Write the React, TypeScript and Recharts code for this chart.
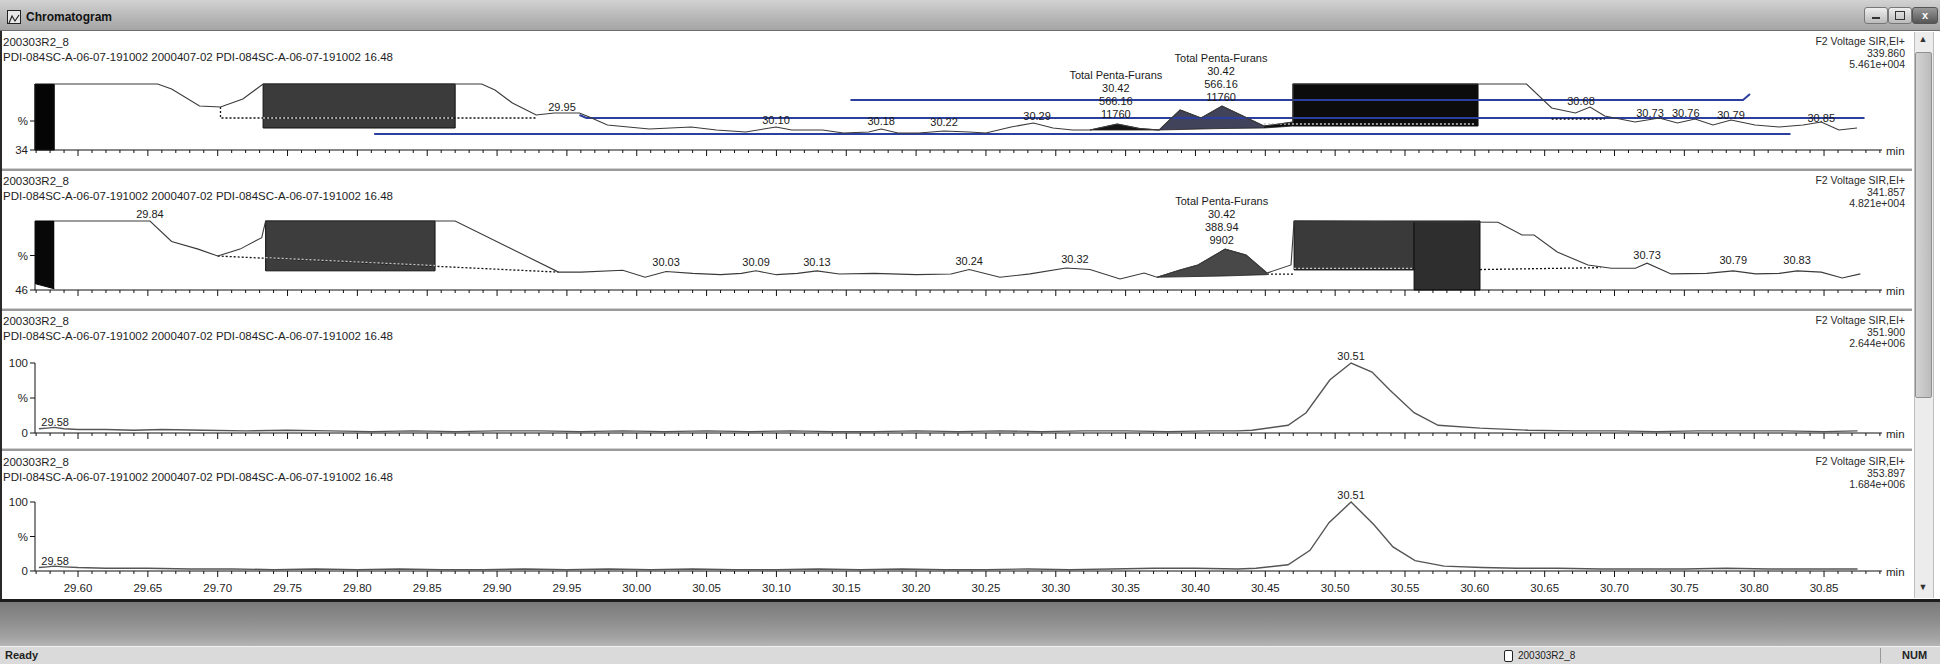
import React from 'react';
import { ComposedChart, Line, Area, XAxis, YAxis, ReferenceArea } from 'recharts';

type P = [number, number];
type R = [number, number, number];
type Rect = [number, number, number, number];
type L = [number, number, string[]];

// ---------------- data ----------------
const X_DOMAIN: [number, number] = [29.5692, 30.8915];
const X_MAJOR_TICKS = [29.6, 29.65, 29.7, 29.75, 29.8, 29.85, 29.9, 29.95, 30.0, 30.05, 30.1, 30.15, 30.2, 30.25, 30.3, 30.35, 30.4, 30.45, 30.5, 30.55, 30.6, 30.65, 30.7, 30.75, 30.8, 30.85];
const X_UNIT = 'min';

const WINDOW_TITLE = 'Chromatogram';
const SAMPLE_NAME = '200303R2_8';
const SAMPLE_DESC = 'PDI-084SC-A-06-07-191002 2000407-02 PDI-084SC-A-06-07-191002 16.48';
const CHANNEL = 'F2 Voltage SIR,EI+';
const MASSES = ['339.860', '341.857', '351.900', '353.897'];
const INTENSITIES = ['5.461e+004', '4.821e+004', '2.644e+006', '1.684e+006'];
const STATUS_LEFT = 'Ready';
const STATUS_FILE = '200303R2_8';
const STATUS_RIGHT = 'NUM';

const Y_DOMAINS: [number, number][] = [[34, 100], [46, 100], [0, 100], [0, 100]];
const Y_TICKS = [[34, 63], [46, 73], [0, 50, 100], [0, 50, 100]];
const Y_TICK_LABELS = [['34', '%'], ['46', '%'], ['0', '%', '100'], ['0', '%', '100']];

// Panel 1 (339.860)
const TRACE_1: P[] = [
  [29.583, 100], [29.657, 100], [29.667, 95], [29.687, 78], [29.702, 77], [29.718, 85], [29.7325, 100],
  [29.889, 100], [29.8985, 94], [29.911, 81], [29.928, 69], [29.941, 71], [29.959, 71], [29.966, 67], [29.979, 59],
  [30.009, 55], [30.039, 57], [30.057, 54], [30.078, 52], [30.0997, 57], [30.111, 54], [30.133, 54], [30.148, 51],
  [30.166, 52], [30.175, 55], [30.187, 51], [30.202, 51], [30.22, 53], [30.238, 52], [30.25, 51], [30.268, 57],
  [30.284, 61], [30.298, 56], [30.312, 54], [30.3245, 54], [30.344, 60], [30.36, 55.5], [30.374, 54], [30.389, 74],
  [30.404, 66], [30.419, 78], [30.449, 58], [30.46, 60], [30.4698, 62], [30.4698, 100],
  [30.637, 100], [30.655, 76], [30.672, 71], [30.6825, 77], [30.693, 68], [30.7147, 62], [30.732, 66], [30.745, 61],
  [30.7577, 65], [30.7705, 59], [30.7834, 64], [30.8006, 59], [30.8178, 57], [30.835, 59], [30.848, 62], [30.8607, 54], [30.8736, 56],
];
const RECTS_1: Rect[] = [[29.5692, 29.583, 34, 100], [29.7325, 29.87, 56, 100], [30.4698, 30.6023, 58, 100]];
const FILL_1A: R[] = [[30.3245, 54, 54], [30.344, 54, 60], [30.36, 54, 55.5], [30.374, 54, 54]];
const FILL_1B: R[] = [[30.374, 54, 54], [30.389, 54.5, 74], [30.404, 55, 66], [30.419, 55.5, 78], [30.449, 56, 58]];
const FILL_1C: R[] = [[30.449, 56, 58], [30.46, 57, 60], [30.4698, 58, 62]];
const DOTTED_1A: P[] = [[29.702, 77], [29.702, 66], [29.928, 66]];
const DOTTED_1B: P[] = [[30.655, 65], [30.693, 65]];
const LIGHT_DOTTED_1A: P[] = [[29.7325, 66], [29.87, 66]];
const LIGHT_DOTTED_1B: P[] = [[30.449, 60], [30.6, 60]];
const BLUE_1_UPPER: P[] = [[30.153, 84], [30.792, 84], [30.797, 90]];
const BLUE_1_MID: P[] = [[29.959, 69], [29.964, 66], [30.879, 66]];
const BLUE_1_LOW: P[] = [[29.812, 50], [30.826, 50]];
const LABELS_1: L[] = [
  [29.9465, 70, ['29.95']], [30.0997, 57, ['30.10']], [30.175, 56, ['30.18']], [30.22, 55, ['30.22']],
  [30.2866, 61, ['30.29']],
  [30.343, 63, ['Total Penta-Furans', '30.42', '566.16', '11760']],
  [30.4183, 80, ['Total Penta-Furans', '30.42', '566.16', '11760']],
  [30.676, 76, ['30.68']], [30.7254, 64, ['30.73']], [30.751, 64, ['30.76']], [30.7834, 62, ['30.79']], [30.848, 59, ['30.85']],
];

// Panel 2 (341.857)
const TRACE_2: P[] = [
  [29.583, 100], [29.6515, 100], [29.667, 84], [29.686, 78], [29.7, 72.6], [29.716, 78], [29.7315, 87], [29.7343, 100],
  [29.87, 100], [29.944, 60], [29.96, 60], [29.99, 61.5], [30.006, 56], [30.021, 60.5], [30.04, 59], [30.06, 58],
  [30.075, 59], [30.0854, 61], [30.1, 58], [30.115, 59], [30.129, 61], [30.145, 58.5], [30.17, 59], [30.2, 58],
  [30.225, 58.5], [30.238, 62], [30.26, 56], [30.2816, 58.6], [30.3073, 63.2], [30.3245, 62], [30.346, 54.6],
  [30.3632, 59.3], [30.3725, 56], [30.389, 61.7], [30.4018, 65.6], [30.4212, 78], [30.4362, 73.4], [30.4512, 59.3],
  [30.4684, 65.6], [30.4706, 100], [30.6166, 99], [30.6338, 89], [30.6424, 89], [30.659, 75.7], [30.681, 65.6],
  [30.6977, 63], [30.715, 63], [30.7233, 67], [30.7405, 58.6], [30.766, 59], [30.785, 61], [30.801, 58.6],
  [30.818, 59], [30.8307, 61], [30.848, 60], [30.863, 55.4], [30.876, 58.6],
];
const BAR_2: R[] = [[29.5692, 51, 100], [29.583, 47, 100]];
const RECTS_2: Rect[] = [[29.7343, 29.8556, 61, 100], [30.4706, 30.5565, 61.7, 100], [30.5565, 30.6037, 46, 100]];
const FILL_2: R[] = [[30.3725, 56, 56], [30.389, 56.3, 61.7], [30.4018, 56.6, 65.6], [30.4212, 57, 78], [30.4362, 57.5, 73.4], [30.4512, 58, 59.3]];
const DOTTED_2A: P[] = [[29.7, 72.6], [29.944, 60]];
const DOTTED_2B: P[] = [[30.4512, 58.5], [30.4706, 58.5]];
const DOTTED_2C: P[] = [[30.6037, 62], [30.69, 63.5]];
const LIGHT_DOTTED_2A: P[] = [[29.7343, 71.3], [29.8556, 65.1]];
const LIGHT_DOTTED_2B: P[] = [[30.4706, 63], [30.5565, 63]];
const LABELS_2: L[] = [
  [29.6515, 100, ['29.84']], [30.021, 62.5, ['30.03']], [30.0854, 62.5, ['30.09']], [30.129, 62.5, ['30.13']],
  [30.238, 63.5, ['30.24']], [30.3137, 65, ['30.32']],
  [30.4188, 79.7, ['Total Penta-Furans', '30.42', '388.94', '9902']],
  [30.7233, 68, ['30.73']], [30.785, 64, ['30.79']], [30.8307, 64, ['30.83']],
];

// Panel 3 (351.900)
const TRACE_3: P[] = [
  [29.572, 6], [29.578, 7], [29.583, 8], [29.59, 6], [29.6, 5], [29.62, 5], [29.64, 4], [29.66, 5], [29.69, 4],
  [29.72, 3], [29.75, 4], [29.78, 3], [29.81, 2], [29.84, 3], [29.87, 2], [29.9, 3], [29.93, 3], [29.96, 2],
  [29.99, 3], [30.02, 2], [30.05, 3], [30.08, 2], [30.11, 3], [30.14, 2], [30.17, 2], [30.2, 3], [30.23, 2],
  [30.26, 3], [30.29, 2], [30.32, 3], [30.35, 3], [30.38, 2], [30.41, 3], [30.43, 3], [30.4405, 4], [30.4663, 11],
  [30.4792, 29], [30.4963, 76], [30.5114, 100], [30.5264, 87], [30.5393, 61], [30.5565, 29], [30.5737, 11],
  [30.6037, 7], [30.6381, 4], [30.67, 3], [30.7, 3], [30.73, 2], [30.76, 3], [30.79, 3], [30.82, 3], [30.85, 2], [30.874, 3],
];
const LABELS_3: L[] = [[29.5836, 5.7, ['29.58']], [30.5114, 100, ['30.51']]];

// Panel 4 (353.897)
const TRACE_4: P[] = [
  [29.572, 5], [29.578, 6], [29.583, 7], [29.59, 6], [29.6, 5], [29.62, 4], [29.65, 4], [29.68, 3], [29.71, 3],
  [29.74, 2], [29.77, 3], [29.8, 2], [29.83, 3], [29.86, 2], [29.89, 2], [29.92, 3], [29.95, 2], [29.98, 3],
  [30.01, 2], [30.04, 3], [30.07, 2], [30.1, 2], [30.13, 3], [30.16, 2], [30.19, 3], [30.22, 2], [30.25, 2],
  [30.28, 3], [30.31, 2], [30.34, 3], [30.37, 4], [30.4, 4], [30.43, 3], [30.4434, 4], [30.4663, 9], [30.482, 30],
  [30.4956, 70], [30.5114, 100], [30.5278, 67], [30.5414, 35], [30.5572, 15], [30.578, 7], [30.6052, 5],
  [30.63, 4], [30.66, 4], [30.69, 3], [30.72, 3], [30.75, 3], [30.78, 4], [30.81, 3], [30.84, 3], [30.874, 3],
];
const LABELS_4: L[] = [[29.5836, 4.3, ['29.58']], [30.5114, 100, ['30.51']]];

// ---------------- layout / style ----------------
const FONT = "'Liberation Sans', Arial, Helvetica, sans-serif";
const PANEL_LAYOUT = [
  { header: 42, top: 84, axis: 150 },
  { header: 181, top: 221, axis: 290 },
  { header: 321, top: 363, axis: 433 },
  { header: 462, top: 502, axis: 571 },
];
const PLOT_LEFT = 35;
const PLOT_RIGHT = 1882;
const MT = 60;
const XH = 30;

const toPts = (a: P[]) => a.map(([t, v]) => ({ t, v }));
const toRange = (a: R[]) => a.map(([t, lo, hi]) => ({ t, r: [lo, hi] }));
const toLabels = (a: L[]) => a.map(([t, v, lines]) => ({ t, v, lines }));

const X_TICKS: number[] = (() => {
  const out: number[] = [];
  const first = X_MAJOR_TICKS[0];
  for (let k = -3; k < 0; k++) out.push(+(first + k * 0.01).toFixed(2));
  X_MAJOR_TICKS.forEach((m) => {
    for (let k = 0; k < 5; k++) out.push(+(m + k * 0.01).toFixed(2));
  });
  return out.filter((v) => v >= X_DOMAIN[0] && v <= X_DOMAIN[1]);
})();
const isMajor = (v: number) => X_MAJOR_TICKS.some((m) => Math.abs(m - v) < 1e-6);

const makeXTick = (showLabels: boolean) => (props: any) => {
  const { x, y, payload } = props;
  const v = payload.value as number;
  const major = isMajor(v);
  return (
    <g>
      <line x1={x} y1={y} x2={x} y2={y + (major ? 6 : 3)} stroke="#111" strokeWidth={1} />
      {showLabels && major ? (
        <text x={x} y={y + 21} textAnchor="middle" fontSize={11.5} fontFamily={FONT} fill="#1e1e1e">
          {v.toFixed(2)}
        </text>
      ) : null}
    </g>
  );
};

const makeYTick = (i: number) => (props: any) => {
  const { x, y, payload } = props;
  const idx = Y_TICKS[i].indexOf(payload.value);
  const label = idx >= 0 ? Y_TICK_LABELS[i][idx] : '';
  return (
    <text x={x} y={y + 4} textAnchor="end" fontSize={11.5} fontFamily={FONT} fill="#1e1e1e">
      {label}
    </text>
  );
};

const renderLabel = (props: any) => {
  const { cx, cy, payload, index } = props;
  if (cx == null || cy == null || !payload) return <g key={`lab-${index}`} />;
  const lines: string[] = payload.lines || [];
  const n = lines.length;
  return (
    <g key={`lab-${index}`}>
      {lines.map((s, k) => (
        <text key={k} x={cx} y={cy - 3 - (n - 1 - k) * 13} textAnchor="middle" fontSize={11} fontFamily={FONT} fill="#1a1a1a">
          {s}
        </text>
      ))}
    </g>
  );
};

type PanelDef = {
  trace: P[];
  traceStyle: { stroke: string; width: number };
  bars: R[][];
  barColors: string[];
  rects: Rect[];
  rectColors: string[];
  fills: R[][];
  fillColors: string[];
  dotted: P[][];
  lightDotted: P[][];
  blue: P[][];
  labels: L[];
};

const PANELS: PanelDef[] = [
  {
    trace: TRACE_1, traceStyle: { stroke: '#3a3a3a', width: 1.1 },
    bars: [], barColors: [],
    rects: RECTS_1, rectColors: ['#050505', '#3b3b3b', '#0c0c0c'],
    fills: [FILL_1A, FILL_1B, FILL_1C], fillColors: ['#151515', '#40435a', '#0c0c0c'],
    dotted: [DOTTED_1A, DOTTED_1B], lightDotted: [LIGHT_DOTTED_1A, LIGHT_DOTTED_1B],
    blue: [BLUE_1_UPPER, BLUE_1_MID, BLUE_1_LOW], labels: LABELS_1,
  },
  {
    trace: TRACE_2, traceStyle: { stroke: '#3a3a3a', width: 1.1 },
    bars: [BAR_2], barColors: ['#080808'],
    rects: RECTS_2, rectColors: ['#3d3d3d', '#3a3a3a', '#2e2e2e'],
    fills: [FILL_2], fillColors: ['#484848'],
    dotted: [DOTTED_2A, DOTTED_2B, DOTTED_2C], lightDotted: [LIGHT_DOTTED_2A, LIGHT_DOTTED_2B],
    blue: [], labels: LABELS_2,
  },
  {
    trace: TRACE_3, traceStyle: { stroke: '#555', width: 1.4 },
    bars: [], barColors: [], rects: [], rectColors: [], fills: [], fillColors: [],
    dotted: [], lightDotted: [], blue: [], labels: LABELS_3,
  },
  {
    trace: TRACE_4, traceStyle: { stroke: '#555', width: 1.4 },
    bars: [], barColors: [], rects: [], rectColors: [], fills: [], fillColors: [],
    dotted: [], lightDotted: [], blue: [], labels: LABELS_4,
  },
];

function Panel({ i }: { i: number }) {
  const lay = PANEL_LAYOUT[i];
  const d = PANELS[i];
  const h = lay.axis - lay.top + MT + XH;
  return (
    <div style={{ position: 'absolute', left: 0, top: lay.top - MT, width: 1940, height: h }}>
      <ComposedChart width={1940} height={h} margin={{ top: MT, right: 1940 - PLOT_RIGHT, bottom: 0, left: PLOT_LEFT - 1 }}>
        <XAxis
          type="number"
          dataKey="t"
          domain={X_DOMAIN}
          ticks={X_TICKS}
          interval={0}
          tickLine={false}
          tickSize={0}
          tickMargin={0}
          height={XH}
          tick={makeXTick(i === 3)}
          axisLine={{ stroke: '#111', strokeWidth: 1 }}
        />
        <YAxis
          type="number"
          domain={Y_DOMAINS[i]}
          ticks={Y_TICKS[i]}
          interval={0}
          width={1}
          tickSize={5}
          tickMargin={2}
          tick={makeYTick(i)}
          axisLine={{ stroke: '#111', strokeWidth: 1 }}
          tickLine={{ stroke: '#111' }}
        />
        {d.rects.map((r, k) => (
          <ReferenceArea key={`rect-${k}`} x1={r[0]} x2={r[1]} y1={r[2]} y2={r[3]} fill={d.rectColors[k]} fillOpacity={1} stroke="#111" strokeWidth={1} ifOverflow="visible" />
        ))}
        {d.bars.map((b, k) => (
          <Area key={`bar-${k}`} data={toRange(b)} dataKey="r" type="linear" stroke="#000" fill={d.barColors[k]} fillOpacity={1} isAnimationActive={false} dot={false} activeDot={false} />
        ))}
        {d.fills.map((f, k) => (
          <Area key={`fill-${k}`} data={toRange(f)} dataKey="r" type="linear" stroke="#222" strokeWidth={0.8} fill={d.fillColors[k]} fillOpacity={1} isAnimationActive={false} dot={false} activeDot={false} />
        ))}
        {d.blue.map((b, k) => (
          <Line key={`blue-${k}`} data={toPts(b)} dataKey="v" type="linear" stroke="#2c3f9e" strokeWidth={2} dot={false} activeDot={false} isAnimationActive={false} />
        ))}
        {d.dotted.map((b, k) => (
          <Line key={`dot-${k}`} data={toPts(b)} dataKey="v" type="linear" stroke="#111" strokeWidth={1.3} strokeDasharray="2 2" dot={false} activeDot={false} isAnimationActive={false} />
        ))}
        {d.lightDotted.map((b, k) => (
          <Line key={`ldot-${k}`} data={toPts(b)} dataKey="v" type="linear" stroke="#c9c9c9" strokeWidth={1.3} strokeDasharray="2 2" dot={false} activeDot={false} isAnimationActive={false} />
        ))}
        <Line data={toPts(d.trace)} dataKey="v" type="linear" stroke={d.traceStyle.stroke} strokeWidth={d.traceStyle.width} dot={false} activeDot={false} isAnimationActive={false} />
        <Line data={toLabels(d.labels)} dataKey="v" type="linear" stroke="none" dot={renderLabel} activeDot={false} isAnimationActive={false} />
      </ComposedChart>
    </div>
  );
}

const txt = (s: string, left: number, centerY: number, size: number, extra: React.CSSProperties = {}) => (
  <div style={{ position: 'absolute', left, top: centerY - size * 0.62, fontSize: size, lineHeight: `${Math.round(size * 1.2)}px`, fontFamily: FONT, color: '#1e1e1e', whiteSpace: 'nowrap', ...extra }}>
    {s}
  </div>
);
const rtxt = (s: string, right: number, centerY: number, size: number) => (
  <div style={{ position: 'absolute', right: 1940 - right, top: centerY - size * 0.62, fontSize: size, lineHeight: `${Math.round(size * 1.2)}px`, fontFamily: FONT, color: '#2a2a2a', whiteSpace: 'nowrap', textAlign: 'right' }}>
    {s}
  </div>
);

export default function App() {
  return (
    <div style={{ position: 'absolute', left: 0, top: 0, width: 1940, height: 664, background: '#fff', overflow: 'hidden', fontFamily: FONT }}>
      {/* title bar */}
      <div style={{ position: 'absolute', left: 0, top: 0, width: 1940, height: 30, background: 'linear-gradient(#d2d2d2, #b6b6b6 60%, #a4a4a4)', borderBottom: '1px solid #6d6d6d' }} />
      <div style={{ position: 'absolute', left: 7, top: 10, width: 12, height: 12, border: '1px solid #222', background: '#e8e8e8' }}>
        <svg width={12} height={12}><polyline points="1,10 4,3 7,8 11,2" fill="none" stroke="#222" strokeWidth={1.2} /></svg>
      </div>
      {txt(WINDOW_TITLE, 26, 17, 12, { fontWeight: 'bold', color: '#111' })}
      {/* window buttons */}
      <div style={{ position: 'absolute', left: 1864, top: 7, width: 22, height: 15, borderRadius: 3, border: '1px solid #777', background: 'linear-gradient(#eee,#bbb)' }}>
        <div style={{ position: 'absolute', left: 7, top: 9, width: 8, height: 2, background: '#333' }} />
      </div>
      <div style={{ position: 'absolute', left: 1888, top: 7, width: 22, height: 15, borderRadius: 3, border: '1px solid #777', background: 'linear-gradient(#eee,#bbb)' }}>
        <div style={{ position: 'absolute', left: 6, top: 3, width: 8, height: 7, border: '1px solid #333' }} />
      </div>
      <div style={{ position: 'absolute', left: 1912, top: 7, width: 24, height: 15, borderRadius: 3, border: '1px solid #555', background: 'linear-gradient(#999,#555)', color: '#fff', fontSize: 11, lineHeight: '15px', textAlign: 'center', fontWeight: 'bold' }}>x</div>

      {/* panel separators */}
      {[168, 308, 448].map((y) => (
        <div key={y} style={{ position: 'absolute', left: 0, top: y, width: 1912, height: 2, background: '#9a9a9a', borderTop: '1px solid #d0d0d0' }} />
      ))}

      {/* charts */}
      {PANELS.map((_, i) => <Panel key={i} i={i} />)}

      {/* headers */}
      {PANEL_LAYOUT.map((lay, i) => (
        <React.Fragment key={`hdr-${i}`}>
          {txt(SAMPLE_NAME, 3, lay.header, 11.5)}
          {txt(SAMPLE_DESC, 3, lay.header + 15, 11.5)}
          {rtxt(CHANNEL, 1905, lay.header, 10.5)}
          {rtxt(MASSES[i], 1905, lay.header + 11.5, 10.5)}
          {rtxt(INTENSITIES[i], 1905, lay.header + 23, 10.5)}
          {txt(X_UNIT, 1886, lay.axis + 1, 11.5)}
        </React.Fragment>
      ))}

      {/* left border */}
      <div style={{ position: 'absolute', left: 0, top: 31, width: 2, height: 568, background: '#2a2a2a' }} />

      {/* scrollbar */}
      <div style={{ position: 'absolute', left: 1914, top: 32, width: 18, height: 566, background: '#ececec', borderLeft: '1px solid #bdbdbd', borderRight: '1px solid #bdbdbd' }} />
      <div style={{ position: 'absolute', left: 1915, top: 34, width: 16, height: 14, fontSize: 9, textAlign: 'center', color: '#333' }}>▲</div>
      <div style={{ position: 'absolute', left: 1915, top: 52, width: 15, height: 344, background: 'linear-gradient(90deg,#d2d2d2,#bcbcbc)', border: '1px solid #8f8f8f', borderRadius: 2 }} />
      <div style={{ position: 'absolute', left: 1915, top: 582, width: 16, height: 14, fontSize: 9, textAlign: 'center', color: '#333' }}>▼</div>

      {/* bottom gray band + status bar */}
      <div style={{ position: 'absolute', left: 0, top: 599, width: 1940, height: 3, background: '#1c1c1c' }} />
      <div style={{ position: 'absolute', left: 0, top: 602, width: 1940, height: 44, background: 'linear-gradient(#7a7a7a, #8c8c8c 40%, #a2a2a2 80%, #b5b5b5)' }} />
      <div style={{ position: 'absolute', left: 0, top: 646, width: 1940, height: 18, background: '#dadada', borderTop: '1px solid #f2f2f2' }} />
      {txt(STATUS_LEFT, 5, 656, 11, { fontWeight: 'bold', color: '#222' })}
      <div style={{ position: 'absolute', left: 1504, top: 650, width: 7, height: 10, border: '1px solid #222', borderRadius: 2, background: '#fff' }} />
      {txt(STATUS_FILE, 1518, 656, 10, { color: '#222' })}
      <div style={{ position: 'absolute', left: 1880, top: 648, width: 1, height: 15, background: '#999' }} />
      {txt(STATUS_RIGHT, 1902, 656, 11, { fontWeight: 'bold', color: '#222' })}
    </div>
  );
}
